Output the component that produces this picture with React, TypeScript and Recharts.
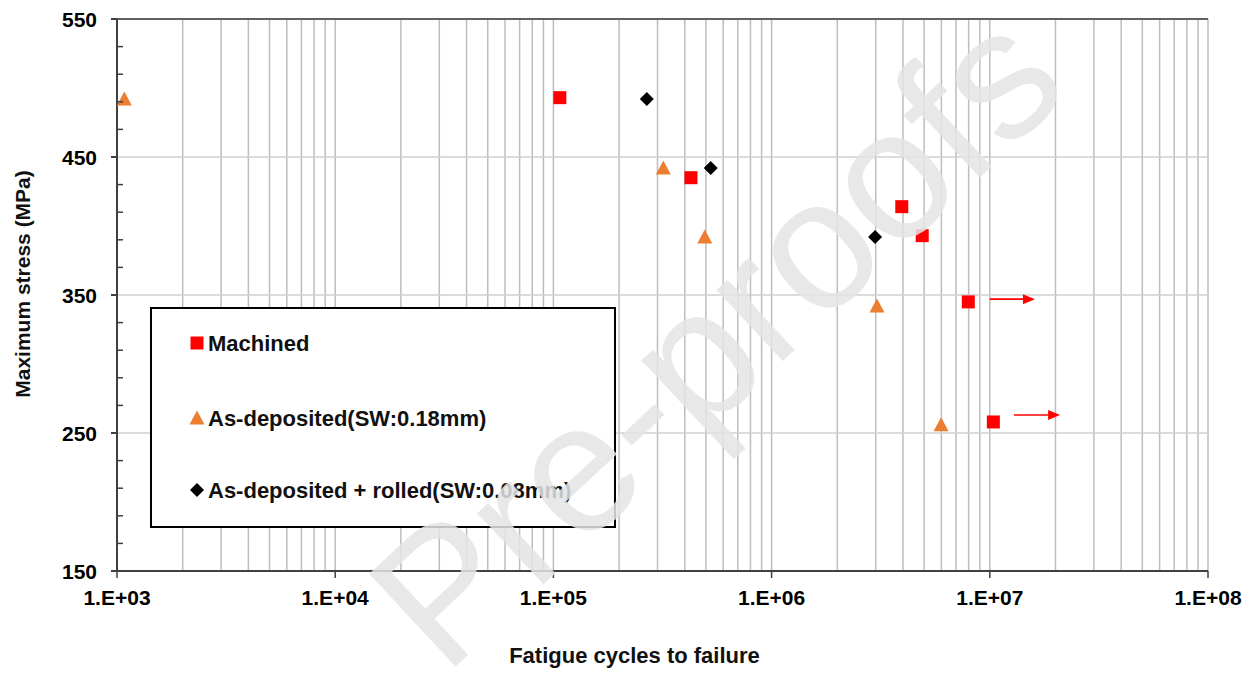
import {
  Legend,
  ReferenceLine,
  Scatter,
  ScatterChart,
  XAxis,
  YAxis,
} from "recharts";

const FONT = "'Liberation Sans', Arial, sans-serif";

const seriesNames = [
  "Machined",
  "As-deposited(SW:0.18mm)",
  "As-deposited + rolled(SW:0.08mm)",
];

// fatigue data
const machinedCycles = [1.07e5, 4.27e5, 3.95e6, 4.9e6, 7.97e6, 1.038e7];
const machinedStress = [493, 435, 414, 393, 345, 258];

const asDepositedCycles = [1.08e3, 3.19e5, 4.94e5, 3.04e6, 5.98e6];
const asDepositedStress = [492, 442, 392, 342, 256];

const rolledCycles = [2.68e5, 5.26e5, 2.98e6];
const rolledStress = [492, 442, 392];

// run-out arrows (specimens that did not fail)
const runoutFrom = [1.0e7, 1.29e7];
const runoutTo = [1.61e7, 2.1e7];
const runoutStress = [347, 263];

const cycleTicks = [1e3, 1e4, 1e5, 1e6, 1e7, 1e8];
const gridMultipliers = [1, 2, 3, 4, 5, 6, 7, 8, 9];
const stressTicks = [
  150, 170, 190, 210, 230, 250, 270, 290, 310, 330, 350, 370, 390, 410, 430,
  450, 470, 490, 510, 530, 550,
];
const stressMajor = [150, 250, 350, 450, 550];
const stressGrid = [250, 350, 450];

const cycleGrid = cycleTicks
  .slice(0, -1)
  .flatMap((d) => gridMultipliers.map((m) => m * d))
  .slice(1)
  .concat([1e8]);

const toPoints = (xs: number[], ys: number[]) =>
  xs.map((x, i) => ({ x, y: ys[i] }));

const machined = toPoints(machinedCycles, machinedStress);
const asDeposited = toPoints(asDepositedCycles, asDepositedStress);
const rolled = toPoints(rolledCycles, rolledStress);

const COLORS = ["#ff0000", "#ed7d31", "#000000"];

function Square({ cx, cy, color }: any) {
  return <rect x={cx - 6.5} y={cy - 6.5} width={13} height={13} fill={color} />;
}

function Triangle({ cx, cy, color }: any) {
  return (
    <polygon
      points={`${cx},${cy - 7.5} ${cx + 7.5},${cy + 6.5} ${cx - 7.5},${cy + 6.5}`}
      fill={color}
    />
  );
}

function Diamond({ cx, cy, color }: any) {
  return (
    <polygon
      points={`${cx},${cy - 7} ${cx + 7},${cy} ${cx},${cy + 7} ${cx - 7},${cy}`}
      fill={color}
    />
  );
}

const markers = [Square, Triangle, Diamond];

function Arrow({ x1, y1, x2 }: any) {
  return (
    <g>
      <line x1={x1} y1={y1} x2={x2 - 11} y2={y1} stroke="#ff0000" strokeWidth={1.6} />
      <polygon
        points={`${x2},${y1} ${x2 - 12},${y1 - 5} ${x2 - 12},${y1 + 5}`}
        fill="#ff0000"
      />
    </g>
  );
}

function StressTick({ x, y, payload }: any) {
  const major = stressMajor.includes(payload.value);
  return (
    <g>
      {major ? (
        <line x1={x - 6} y1={y} x2={x} y2={y} stroke="#404040" strokeWidth={2} />
      ) : (
        <line x1={x} y1={y} x2={x + 6} y2={y} stroke="#404040" strokeWidth={1.5} />
      )}
      {major && (
        <text
          x={x - 20}
          y={y}
          textAnchor="end"
          dominantBaseline="central"
          fontFamily={FONT}
          fontWeight={700}
          fontSize={21}
          fill="#000"
        >
          {payload.value}
        </text>
      )}
    </g>
  );
}

function LegendBox() {
  const rows = [34, 109, 181];
  return (
    <div
      style={{
        width: 466,
        height: 221,
        border: "2px solid #000",
        background: "#fff",
        boxSizing: "border-box",
      }}
    >
      <svg width={462} height={217}>
        {seriesNames.map((name, i) => {
          const Marker = markers[i];
          return (
            <g key={name}>
              <Marker cx={45} cy={rows[i]} color={COLORS[i]} />
              <text
                x={56}
                y={rows[i]}
                dominantBaseline="central"
                fontFamily={FONT}
                fontWeight={700}
                fontSize={22}
                fill="#111"
              >
                {name}
              </text>
            </g>
          );
        })}
      </svg>
    </div>
  );
}

export default function App() {
  const series = [machined, asDeposited, rolled];
  return (
    <div
      style={{
        position: "absolute",
        left: 0,
        top: 0,
        width: 1258,
        height: 673,
        background: "#fff",
      }}
    >
      <ScatterChart
        width={1258}
        height={673}
        margin={{ top: 19, right: 50, bottom: 0, left: 0 }}
      >
        {cycleGrid.map((v) => (
          <ReferenceLine key={`vx${v}`} x={v} stroke="#bdbdbd" strokeWidth={1.5} />
        ))}
        {stressGrid.map((v) => (
          <ReferenceLine key={`hy${v}`} y={v} stroke="#cfcfcf" strokeWidth={1.3} />
        ))}
        <ReferenceLine y={550} stroke="#606060" strokeWidth={2} />
        <XAxis
          type="number"
          dataKey="x"
          scale="log"
          domain={[1e3, 1e8]}
          ticks={cycleTicks}
          allowDataOverflow
          height={102}
          tickSize={7}
          tickMargin={12}
          stroke="#404040"
          axisLine={{ stroke: "#404040", strokeWidth: 2 }}
          tickLine={{ stroke: "#404040", strokeWidth: 1.5 }}
          tick={{ fill: "#000", fontSize: 21, fontWeight: 700, fontFamily: FONT }}
          tickFormatter={(v: number) =>
            `1.E+${String(Math.round(Math.log10(v))).padStart(2, "0")}`
          }
          label={{
            content: ({ viewBox }: any) => (
              <text
                x={viewBox.x + viewBox.width / 2 - 28}
                y={663}
                textAnchor="middle"
                fontFamily={FONT}
                fontWeight={700}
                fontSize={22}
                fill="#111"
              >
                Fatigue cycles to failure
              </text>
            ),
          }}
        />
        <YAxis
          type="number"
          dataKey="y"
          domain={[150, 550]}
          ticks={stressTicks}
          width={117}
          tickSize={0}
          tickMargin={0}
          tickLine={false}
          axisLine={{ stroke: "#404040", strokeWidth: 2 }}
          tick={<StressTick />}
          interval={0}
          label={{
            content: ({ viewBox }: any) => {
              const cx = 22;
              const cy = viewBox.y + viewBox.height / 2 - 11;
              return (
                <text
                  transform={`translate(${cx},${cy}) rotate(-90)`}
                  textAnchor="middle"
                  dominantBaseline="central"
                  fontFamily={FONT}
                  fontWeight={700}
                  fontSize={21}
                  fill="#111"
                >
                  Maximum stress (MPa)
                </text>
              );
            },
          }}
        />
        {runoutStress.map((s, i) => (
          <ReferenceLine
            key={`ro${i}`}
            segment={[
              { x: runoutFrom[i], y: s },
              { x: runoutTo[i], y: s },
            ]}
            shape={(p: any) => <Arrow {...p} />}
          />
        ))}
        {series.map((data, i) => {
          const Marker = markers[i];
          return (
            <Scatter
              key={seriesNames[i]}
              name={seriesNames[i]}
              data={data}
              fill={COLORS[i]}
              isAnimationActive={false}
              shape={(p: any) => <Marker cx={p.cx} cy={p.cy} color={COLORS[i]} />}
            />
          );
        })}
        <Legend
          layout="vertical"
          align="center"
          verticalAlign="middle"
          wrapperStyle={{ left: 150, top: 307, width: 466, height: 221 }}
          content={() => <LegendBox />}
        />
      </ScatterChart>
      <svg
        width={1258}
        height={673}
        style={{ position: "absolute", left: 0, top: 0, pointerEvents: "none" }}
      >
        <text
          x={715}
          y={337}
          transform="rotate(-43 715 337)"
          textAnchor="middle"
          dominantBaseline="central"
          fontFamily={FONT}
          fontSize={184}
          fill="#e4e4e4"
          fillOpacity={0.85}
        >
          Pre-proofs
        </text>
      </svg>
    </div>
  );
}
